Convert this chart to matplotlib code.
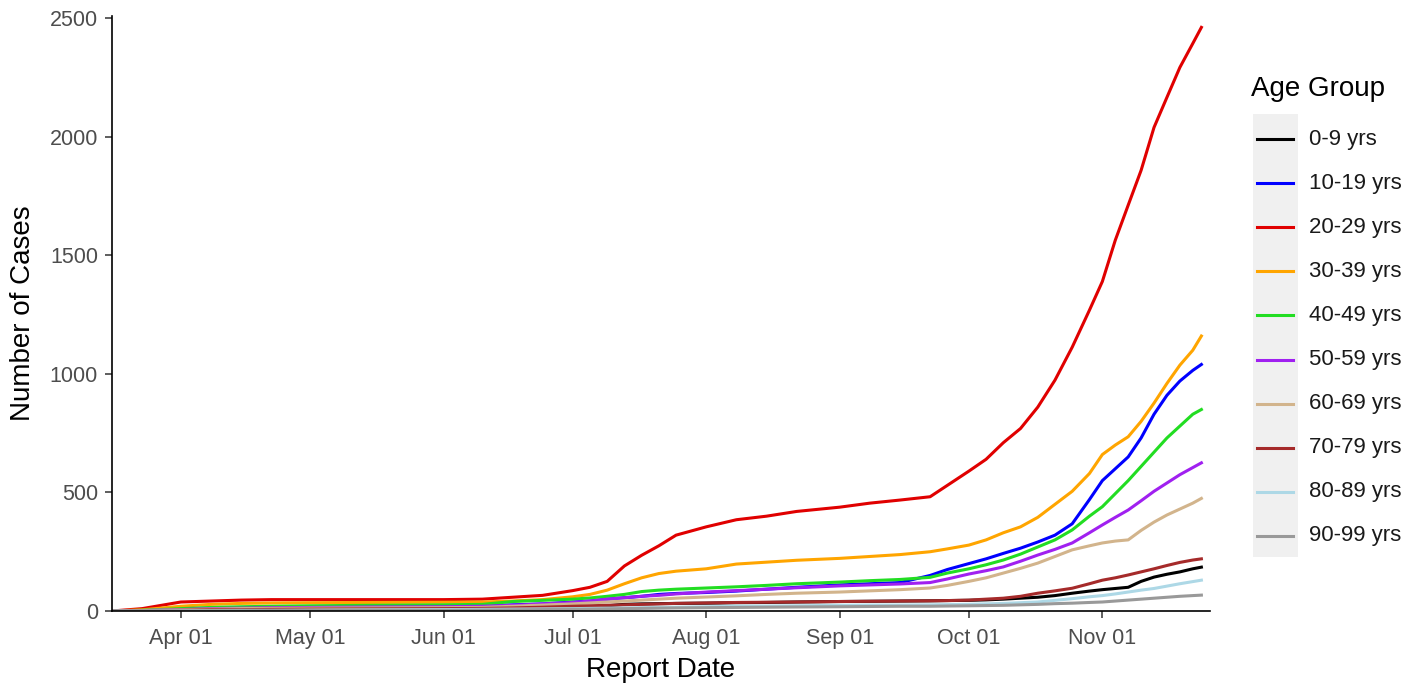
import pandas as pd
import matplotlib.pyplot as plt
import matplotlib.dates as mdates
from matplotlib.lines import Line2D
from matplotlib.patches import Rectangle

plt.rcParams['font.family'] = ['Liberation Sans', 'DejaVu Sans']

# report dates (cumulative counts read at these dates)
dates = ["2020-03-16", "2020-03-23", "2020-04-01", "2020-04-08", "2020-04-15", "2020-04-22",
         "2020-05-01", "2020-05-15", "2020-06-01", "2020-06-10", "2020-06-17", "2020-06-24",
         "2020-07-01", "2020-07-05", "2020-07-09", "2020-07-13", "2020-07-17", "2020-07-21",
         "2020-07-25", "2020-08-01", "2020-08-08", "2020-08-15", "2020-08-22", "2020-09-01",
         "2020-09-08", "2020-09-15", "2020-09-22", "2020-09-26", "2020-10-01", "2020-10-05",
         "2020-10-09", "2020-10-13", "2020-10-17", "2020-10-21", "2020-10-25", "2020-10-29",
         "2020-11-01", "2020-11-04", "2020-11-07", "2020-11-10", "2020-11-13", "2020-11-16",
         "2020-11-19", "2020-11-22", "2020-11-24"]

age_groups = ["0-9 yrs", "10-19 yrs", "20-29 yrs", "30-39 yrs", "40-49 yrs",
              "50-59 yrs", "60-69 yrs", "70-79 yrs", "80-89 yrs", "90-99 yrs"]
colors = ["black", "#0000FF", "#E00000", "#FFA500", "#22DD22",
          "#A020F0", "#D2B48C", "#A52A2A", "#ADD8E6", "#999999"]

cases_0_9 = [0, 0, 1, 2, 4, 4, 5, 6, 8, 9, 11, 13, 15, 18, 22, 28, 30, 31, 32, 33, 35, 36,
             38, 40, 41, 42, 43, 44, 45, 47, 50, 54, 58, 65, 75, 84, 90, 95, 100, 125,
             143, 155, 165, 178, 185]
cases_10_19 = [0, 2, 8, 12, 14, 15, 16, 18, 20, 22, 26, 30, 38, 42, 50, 56, 62, 70, 74, 78,
               84, 92, 100, 110, 115, 120, 150, 175, 200, 220, 243, 265, 291, 320, 368, 470,
               550, 600, 650, 730, 830, 910, 970, 1015, 1040]
cases_20_29 = [0, 10, 38, 42, 46, 48, 48, 48, 48, 50, 58, 66, 86, 100, 125, 190, 235, 275,
               320, 355, 385, 400, 420, 438, 455, 468, 482, 530, 590, 640, 710, 770, 860,
               974, 1113, 1269, 1390, 1564, 1712, 1859, 2040, 2167, 2293, 2394, 2462]
cases_30_39 = [0, 5, 20, 28, 32, 34, 35, 36, 37, 38, 42, 48, 60, 70, 88, 115, 140, 158, 168,
               178, 198, 206, 214, 222, 230, 238, 250, 262, 278, 300, 330, 355, 395, 450,
               505, 580, 660, 700, 735, 800, 877, 960, 1037, 1100, 1160]
cases_40_49 = [0, 3, 10, 15, 18, 20, 22, 24, 26, 28, 40, 45, 50, 55, 62, 70, 82, 88, 92, 97,
               102, 108, 115, 122, 128, 133, 142, 160, 178, 195, 215, 240, 270, 300, 342,
               400, 440, 495, 550, 610, 670, 730, 780, 830, 850]
cases_50_59 = [0, 2, 6, 10, 12, 14, 15, 17, 18, 20, 24, 30, 36, 42, 50, 56, 62, 66, 72, 80,
               86, 92, 98, 106, 110, 114, 120, 135, 156, 170, 186, 210, 236, 260, 287, 330,
               363, 395, 426, 465, 505, 540, 575, 605, 625]
cases_60_69 = [0, 2, 5, 8, 10, 11, 12, 13, 14, 15, 20, 25, 30, 34, 38, 42, 46, 50, 54, 59,
               64, 70, 75, 80, 85, 90, 97, 108, 125, 140, 160, 180, 202, 230, 258, 275, 287,
               295, 300, 340, 375, 405, 430, 455, 475]
cases_70_79 = [0, 1, 3, 5, 6, 7, 8, 9, 10, 11, 13, 16, 20, 22, 24, 26, 28, 30, 32, 34, 36,
               37, 38, 40, 41, 42, 43, 44, 46, 50, 54, 62, 75, 85, 96, 115, 130, 140, 152,
               165, 178, 192, 205, 215, 220]
cases_80_89 = [0, 0, 1, 2, 3, 3, 4, 5, 6, 7, 8, 9, 10, 11, 12, 13, 14, 15, 16, 18, 20, 21,
               22, 24, 25, 25, 26, 27, 28, 30, 32, 35, 38, 45, 52, 60, 65, 72, 80, 88, 95,
               105, 115, 124, 130]
cases_90_99 = [0, 0, 0, 1, 1, 2, 2, 3, 3, 4, 5, 6, 7, 8, 9, 10, 11, 12, 13, 14, 15, 16, 17,
               18, 19, 20, 20, 21, 22, 23, 24, 26, 28, 31, 33, 36, 38, 42, 46, 50, 54, 58,
               62, 65, 67]

series = [cases_0_9, cases_10_19, cases_20_29, cases_30_39, cases_40_49,
          cases_50_59, cases_60_69, cases_70_79, cases_80_89, cases_90_99]

x = pd.to_datetime(dates)

W, H = 1424, 686
fig = plt.figure(figsize=(W / 100, H / 100), dpi=100)
ax = fig.add_axes([112 / W, 1 - 611 / H, (1210 - 112) / W, (611 - 16) / H])

for vals, col, lab in zip(series, colors, age_groups):
    ax.plot(x, vals, color=col, lw=2.2, label=lab, solid_joinstyle='round')

ax.set_xlim(pd.Timestamp("2020-03-16"), pd.Timestamp("2020-11-26"))
ax.set_ylim(0, 2510)
ax.set_yticks([0, 500, 1000, 1500, 2000, 2500])
ax.xaxis.set_major_locator(mdates.MonthLocator(bymonth=range(4, 12)))
ax.xaxis.set_major_formatter(mdates.DateFormatter("%b %d"))

for s in ["top", "right"]:
    ax.spines[s].set_visible(False)
for s in ["left", "bottom"]:
    ax.spines[s].set_linewidth(1.2)
    ax.spines[s].set_color("black")
ax.tick_params(axis="both", length=5, width=1.1, color="#333333",
               labelsize=15.5, labelcolor="#4D4D4D", pad=5)
ax.tick_params(axis="x", pad=7)

ax.set_xlabel("Report Date", fontsize=20, color="black", labelpad=6)
ax.set_ylabel("Number of Cases", fontsize=20, color="black", labelpad=10)

# legend, ggplot style with grey key background
def fx(px):
    return px / W

def fy(py):
    return 1 - py / H

fig.text(fx(1251), fy(89), "Age Group", fontsize=20, va="center", ha="left")
fig.add_artist(Rectangle((fx(1253), fy(557)), fx(1298) - fx(1253), fy(114) - fy(557),
                         transform=fig.transFigure, facecolor="#F0F0F0", edgecolor="none"))
for i, (col, lab) in enumerate(zip(colors, age_groups)):
    yy = 139 + i * 44.1
    fig.add_artist(Line2D([fx(1257), fx(1293)], [fy(yy), fy(yy)], color=col, lw=2.2,
                          transform=fig.transFigure))
    fig.text(fx(1309), fy(yy), lab, fontsize=16, va="center", ha="left", color="#1A1A1A")

fig.savefig("out.png", dpi=100)
